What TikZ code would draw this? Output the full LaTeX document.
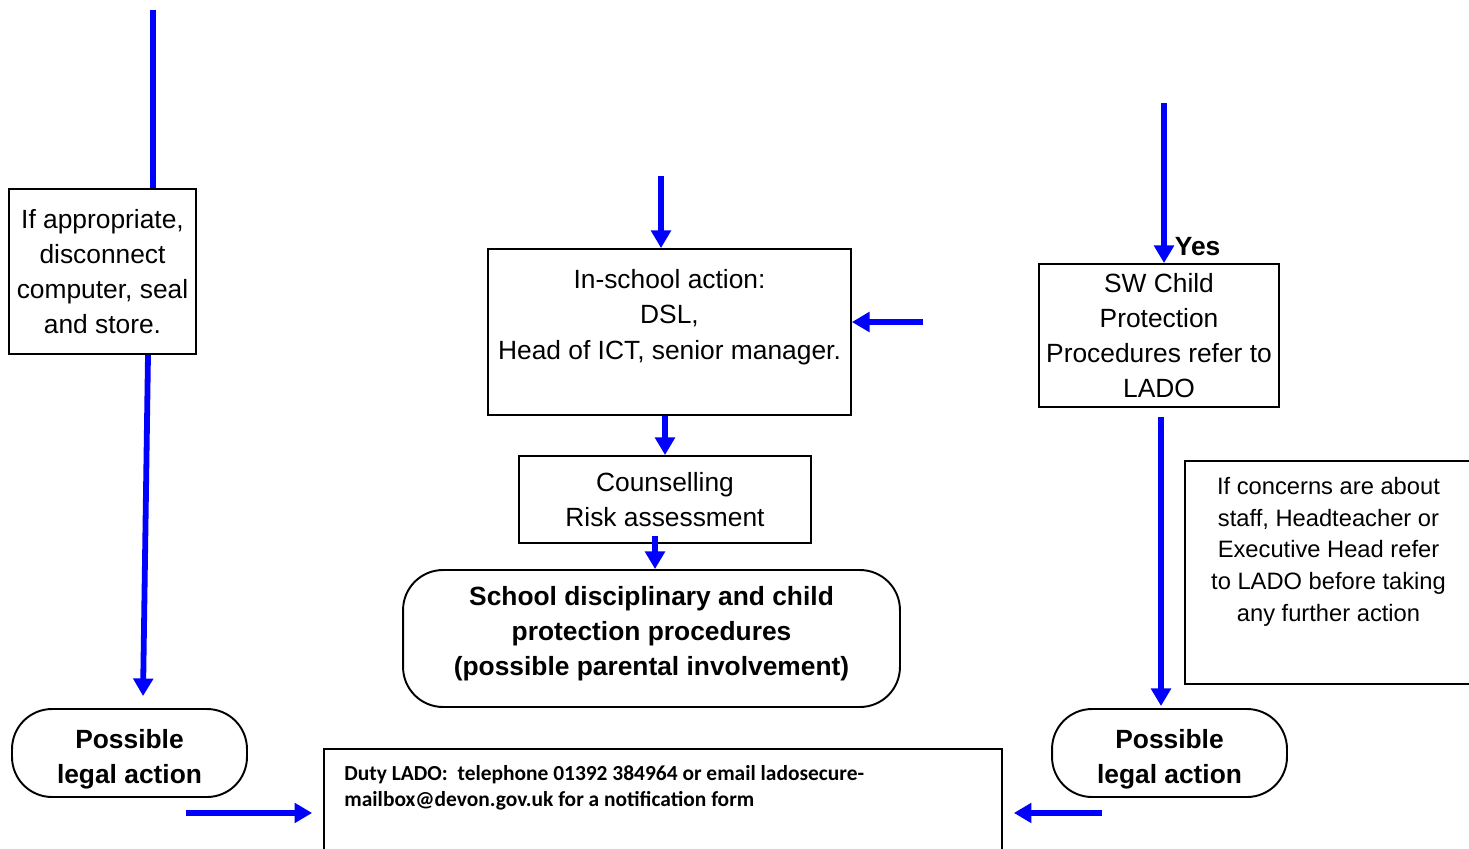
\documentclass[tikz,border=0pt]{standalone}
\usepackage{fontspec}
\setmainfont{Liberation Sans}
\newfontfamily\calibri{Carlito}
\usetikzlibrary{arrows.meta,positioning,calc}

\begin{document}
\begin{tikzpicture}[
    x=0.02cm, y=-0.02cm,
    every node/.style={inner sep=0pt},
    box/.style={draw=black, line width=1.1pt, fill=white, align=center, font=\fontsize{15}{20}\selectfont},
    pill/.style={box, rounded corners=0.8cm, font=\fontsize{15}{20}\selectfont\bfseries},
    flow/.style={draw=blue, line width=3.3pt},
    arr/.style={flow, -{Triangle[length=10pt, width=11pt]}}
]

% Page area
\useasboundingbox (0,0) rectangle (1469,848);
\clip (0,0) rectangle (1469,848);

% Left column
\node[box, minimum width=3.74cm, minimum height=3.30cm] (appr) at (102.5,271.5) {If appropriate,\\disconnect\\computer, seal\\and store.};
\node[pill, minimum width=4.70cm, minimum height=1.76cm] (legalL) at (129.5,753) {\rule{0pt}{18pt}Possible\\legal action};

% Middle column
\node[box, minimum width=7.26cm, minimum height=3.32cm] (inschool) at (669.5,332) {In-school action:\\DSL,\\Head of ICT, senior manager.\\~};
\node[box, minimum width=5.84cm, minimum height=1.74cm] (counsel) at (665,499.5) {Counselling\\Risk assessment};
\node[pill, minimum width=9.94cm, minimum height=2.74cm, text depth=9pt] (school) at (651.5,638.5) {School disciplinary and child\\protection procedures\\(possible parental involvement)};

% Right column
\node[box, minimum width=4.80cm, minimum height=2.86cm] (sw) at (1159,335.5) {SW Child\\Protection\\Procedures refer to\\LADO};
\node[pill, minimum width=4.70cm, minimum height=1.76cm] (legalR) at (1169.5,753) {\rule{0pt}{18pt}Possible\\legal action};
\node[box, minimum width=5.74cm, minimum height=4.46cm] (concern) at (1328.5,572.5) {};
\node[font=\fontsize{13.5}{18}\selectfont, align=center, anchor=north] (concerntxt) at ($(concern.north)+(0,17)$) {If concerns are about\\staff, Headteacher or\\Executive Head refer\\to LADO before taking\\any further action};

% LADO contact box
\node[box, minimum width=13.56cm, minimum height=3.02cm] (duty) at (663,824.5) {};
\node[font=\calibri\bfseries\fontsize{12.2}{14.7}\selectfont, align=left, anchor=north west] (dutytxt) at ($(duty.north west)+(21,17)$) {Duty LADO:\ \ telephone 01392 384964 or email ladosecure-\\mailbox@devon.gov.uk for a notification form};

% Free ends
\coordinate (apprTop) at (153,10);
\coordinate (inTop) at (661,176);
\coordinate (inRight) at (923,322);
\coordinate (swTop) at (1164,103);
\coordinate (legLout) at ($(legalL.south)+(56.5,15)$);
\coordinate (legRout) at ($(legalR.south)+(-67.5,15)$);

% Connectors
\draw[flow] (apprTop) -- (appr.north -| apprTop);
\draw[arr] ($(appr.south)+(45.5,0)$) -- ($(legalL.north)+(13.5,-12)$);
\draw[arr] (legLout) -- ($(duty.west |- legLout)+(-11,0)$);
\draw[arr] (inTop) -- (inschool.north -| inTop);
\draw[arr] (inRight) -- (inschool.east |- inRight);
\draw[arr] (inschool.south -| counsel.north) -- (counsel.north);
\draw[arr] ($(counsel.south -| school.north)+(3.5,-8)$) -- ($(school.north)+(3.5,0)$);
\draw[arr] (swTop) -- (sw.north -| swTop) node[pos=1, anchor=base west, xshift=0.16cm, yshift=0.16cm, font=\fontsize{15}{20}\selectfont\bfseries] (yes) {Yes};
\draw[arr] ($(sw.south)+(2,9)$) -- ($(legalR.north)+(-8.5,-2)$);
\draw[arr] (legRout) -- ($(duty.east |- legRout)+(11,0)$);

\end{tikzpicture}
\end{document}
